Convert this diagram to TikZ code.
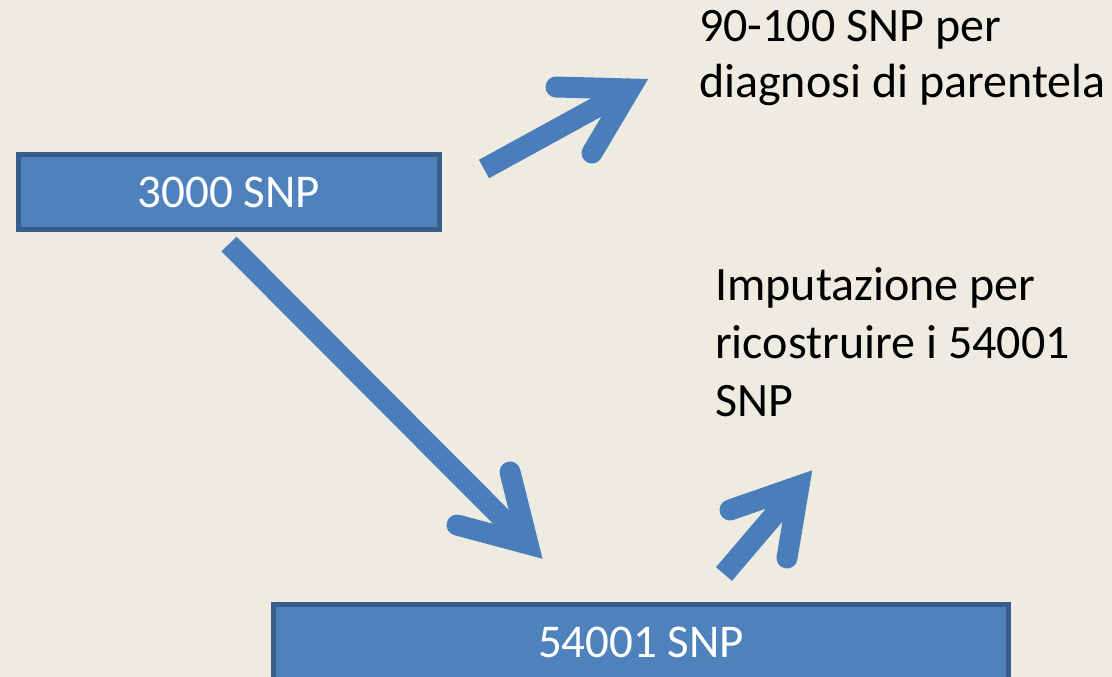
\documentclass[tikz,border=0pt]{standalone}
\usepackage{fontspec}
\setmainfont{Carlito}
\definecolor{bg}{HTML}{EEECE1}
\definecolor{boxfill}{HTML}{4F81BD}
\definecolor{boxline}{HTML}{385D8A}
\definecolor{arrowblue}{HTML}{4A7EBB}
\begin{document}
\begin{tikzpicture}[x=1pt,y=-1pt,
  box/.style={draw=boxline, line width=5pt, fill=boxfill, text=white, font=\fontsize{47}{56}\selectfont, inner sep=0pt},
  lbl/.style={align=left, anchor=north west, inner sep=0pt, text=black},
  shaft/.style={draw=arrowblue, line width=21pt, line cap=butt},
  head/.style={draw=arrowblue, line width=21pt, line cap=round, line join=miter, miter limit=20}]
\fill[bg] (0,0) rectangle (1112,677);
\useasboundingbox (0,0) rectangle (1112,677);
\node[box, minimum width=421pt, minimum height=75pt] (b1) at (229,192) {3000 SNP};
\node[box, minimum width=735pt, minimum height=75pt] (b2) at (641,642) {54001 SNP};
\node[lbl, font=\fontsize{48}{56}\selectfont] (t1) at (699,10) {90-100 SNP per\\diagnosi di parentela};
\node[lbl, font=\fontsize{48}{58}\selectfont] (t2) at (715,267) {Imputazione per\\ricostruire i 54001\\SNP};
% arrow 1
\coordinate (a1s) at (484,169);
\coordinate (a1v) at (630,89);
\coordinate (a1l) at (556,87);
\coordinate (a1r) at (592,153);
\draw[shaft] (a1s) -- (a1v);
\draw[head] (a1l) -- (a1v) -- (a1r);
% arrow 2
\coordinate (a2s) at (229,244);
\coordinate (a2v) at (528,544);
\coordinate (a2l) at (510,472);
\coordinate (a2r) at (457,525);
\draw[shaft] (a2s) -- (a2v);
\draw[head] (a2l) -- (a2v) -- (a2r);
% arrow 3
\coordinate (a3s) at (724,574);
\coordinate (a3v) at (799,486);
\coordinate (a3l) at (730,510);
\coordinate (a3r) at (787,558);
\draw[shaft] (a3s) -- (a3v);
\draw[head] (a3l) -- (a3v) -- (a3r);
\end{tikzpicture}
\end{document}
